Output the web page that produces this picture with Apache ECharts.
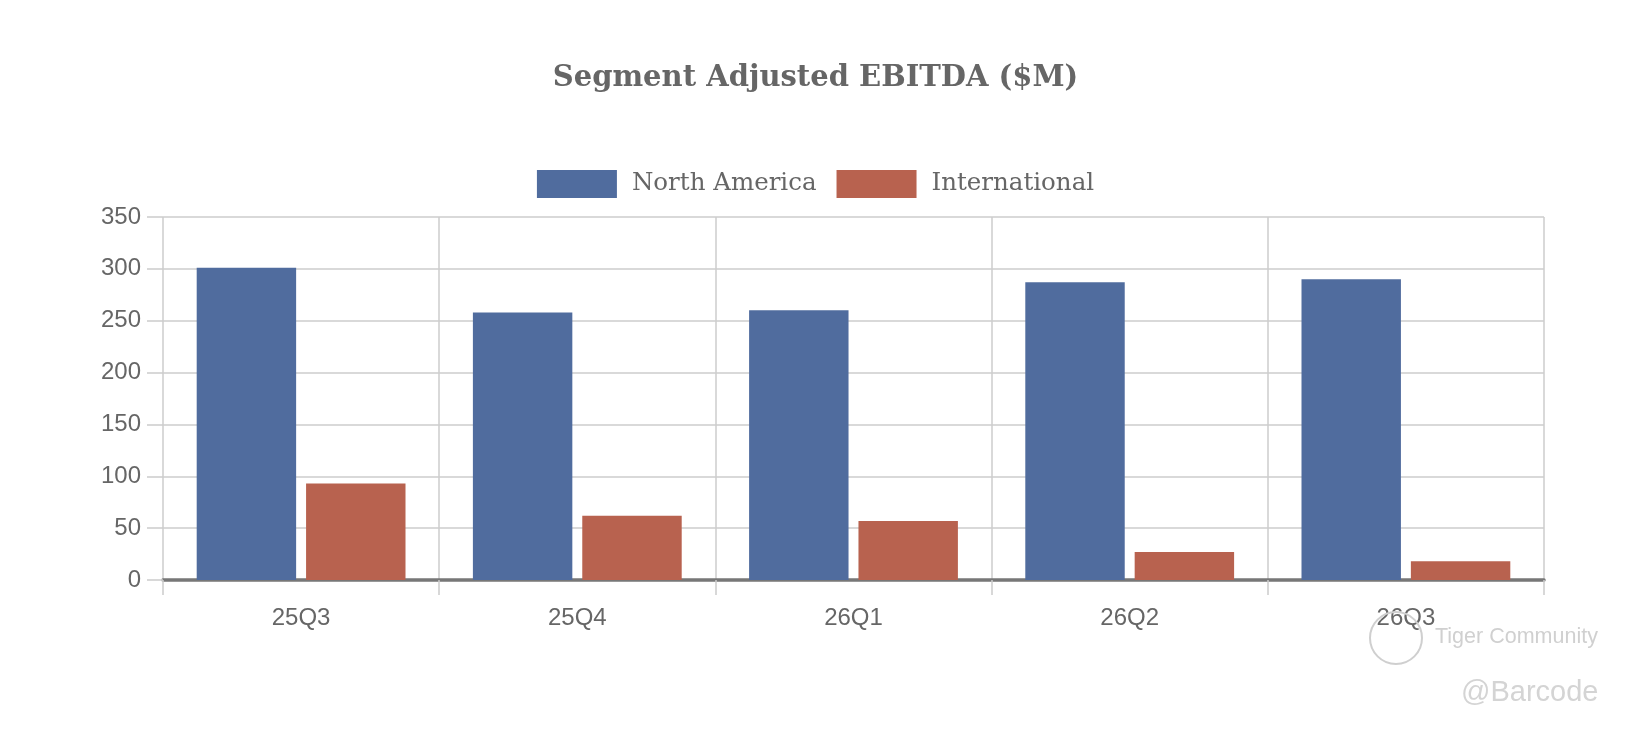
<!DOCTYPE html>
<html>
<head>
<meta charset="utf-8">
<script src="https://cdn.jsdelivr.net/npm/echarts@6/dist/echarts.min.js"></script>
<style>
html,body{margin:0;padding:0;background:#fff;}
#chart{width:1631px;height:730px;}
</style>
</head>
<body>
<div id="chart"></div>
<script>
const categories = ['25Q3', '25Q4', '26Q1', '26Q2', '26Q3'];
const northAmerica = [301, 258, 260, 287, 290];
const international = [93, 62, 57, 27, 18];
const seriesNames = ['North America', 'International'];
const titleText = 'Segment Adjusted EBITDA ($M)';

const chart = echarts.init(document.getElementById('chart'));
const gridColor = '#cccccc';
const textColor = '#666666';
chart.setOption({
  backgroundColor: '#ffffff',
  animation: false,
  title: {
    text: titleText,
    left: 'center',
    top: 60,
    padding: 0,
    textStyle: {
      fontFamily: 'DejaVu Serif',
      fontWeight: 'bold',
      fontSize: 29,
      lineHeight: 36,
      color: '#666666'
    }
  },
  legend: {
    data: seriesNames,
    left: 'center',
    top: 170,
    padding: 0,
    itemWidth: 80,
    itemHeight: 28,
    itemGap: 20,
    icon: 'rect',
    textStyle: {
      fontFamily: 'DejaVu Serif',
      fontSize: 24.5,
      color: textColor,
      padding: [0, 0, 0, 10]
    }
  },
  grid: {
    left: 163,
    right: 87,
    top: 217,
    bottom: 150,
    containLabel: false
  },
  xAxis: {
    type: 'category',
    data: categories,
    boundaryGap: true,
    axisLine: { show: true, lineStyle: { color: '#777777', width: 3.5 } },
    axisTick: { show: true, length: 15, lineStyle: { color: gridColor, width: 1.5 } },
    splitLine: { show: true, lineStyle: { color: gridColor, width: 1.5 } },
    axisLabel: { fontFamily: 'Liberation Sans', fontSize: 24, color: textColor, margin: 26 }
  },
  yAxis: {
    type: 'value',
    min: 0,
    max: 350,
    interval: 50,
    axisLine: { show: false },
    axisTick: { show: true, length: 16, lineStyle: { color: gridColor, width: 1.5 } },
    splitLine: { show: true, lineStyle: { color: gridColor, width: 1.5 } },
    axisLabel: { fontFamily: 'Liberation Sans', fontSize: 24, color: textColor, margin: 22 }
  },
  series: [
    {
      name: seriesNames[0],
      type: 'bar',
      data: northAmerica,
      barWidth: '36%',
      barGap: '10%',
      itemStyle: { color: '#506c9e' }
    },
    {
      name: seriesNames[1],
      type: 'bar',
      data: international,
      barWidth: '36%',
      barGap: '10%',
      itemStyle: { color: '#b8624f' }
    }
  ],
  graphic: [
    {
      type: 'circle',
      shape: { cx: 1396, cy: 638, r: 26 },
      style: { fill: 'none', stroke: '#cfcfcf', lineWidth: 2 },
      z: 100
    },
    {
      type: 'text',
      left: 1435,
      top: 626,
      style: { text: 'Tiger Community', fontFamily: 'Liberation Sans', fontSize: 21.5, fill: '#d0d0d0' },
      z: 100
    },
    {
      type: 'text',
      left: 1461,
      top: 678,
      style: { text: '@Barcode', fontFamily: 'Liberation Sans', fontSize: 29, fill: '#d4d4d4' },
      z: 100
    }
  ]
});
</script>
</body>
</html>
